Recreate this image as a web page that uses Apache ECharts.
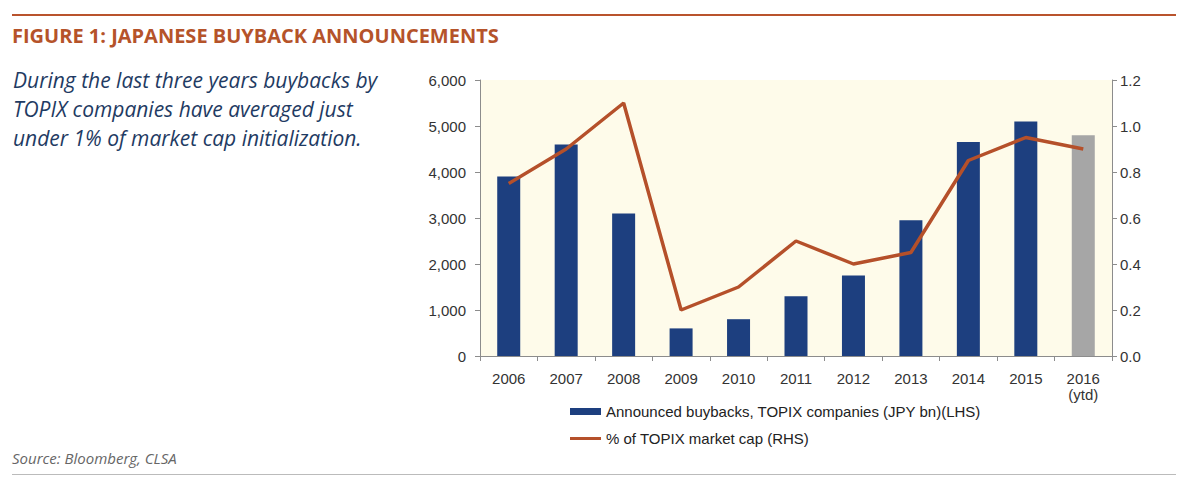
<!DOCTYPE html>
<html>
	<head>
		<meta charset="UTF-8">
		<title>Japanese buyback announcements</title>
		<style type="text/css">
			html,body{
				margin: 0;
				padding: 0;
				width: 100%;
				height: 100%;
				background: #fff;
			}
			#main{
				width: 1200px;
				height: 493px;
			}
		</style>
	</head>
	<body>
		<div id="main"></div>
		<script src="https://cdn.jsdelivr.net/npm/echarts@6/dist/echarts.min.js"></script>
		<script>
			var years = ['2006', '2007', '2008', '2009', '2010', '2011', '2012', '2013', '2014', '2015', '2016\n(ytd)'];
			var buybacks = [3900, 4600, 3100, 600, 800, 1300, 1750, 2950, 4650, 5100, 4800];
			var pctMarketCap = [0.75, 0.9, 1.1, 0.2, 0.3, 0.5, 0.4, 0.45, 0.85, 0.95, 0.9];
			var ytdIndex = 10;

			var blue = '#1d3f7f';
			var rust = '#b5502a';
			var axisGray = '#8c8c8c';
			var labelColor = '#333';

			var barData = buybacks.map(function (v, i) {
				return i === ytdIndex ? {value: v, itemStyle: {color: '#a6a6a6'}} : v;
			});

			var myChart = echarts.init(document.getElementById('main'), null, {renderer: 'svg'});

			myChart.setOption({
				backgroundColor: '#fff',
				animation: false,
				textStyle: {fontFamily: 'Liberation Sans, Arial, sans-serif'},
				grid: {
					left: 480,
					top: 80,
					right: 88,
					bottom: 137,
					show: true,
					backgroundColor: '#fefbea',
					borderWidth: 0
				},
				graphic: [
					{type: 'rect', shape: {x: 12, y: 14, width: 1164, height: 2}, style: {fill: '#b9532d'}},
					{type: 'text', left: 12, top: 25, style: {
						text: 'FIGURE 1: JAPANESE BUYBACK ANNOUNCEMENTS',
						font: 'bold 20px "Open Sans", sans-serif', fill: '#b5532a'
					}},
					{type: 'text', left: 13, top: 65, style: {
						text: 'During the last three years buybacks by\nTOPIX companies have averaged just\nunder 1% of market cap initialization.',
						font: 'italic 21px "Open Sans", sans-serif', fill: '#1f3b63', lineHeight: 29
					}},
					{type: 'text', left: 12, top: 450, style: {
						text: 'Source: Bloomberg, CLSA',
						font: 'italic 15px "Open Sans", sans-serif', fill: '#666'
					}},
					{type: 'rect', shape: {x: 12, y: 474, width: 1164, height: 1}, style: {fill: '#bbbbbb'}}
				],
				legend: {
					orient: 'vertical',
					left: 565,
					top: 399,
					itemWidth: 31,
					itemHeight: 7,
					itemGap: 12,
					textStyle: {fontSize: 15, color: '#222'},
					data: [
						{name: 'Announced buybacks, TOPIX companies (JPY bn)(LHS)', icon: 'rect'},
						{name: '% of TOPIX market cap (RHS)', icon: 'path://M0 0H31V3H0Z', itemStyle: {color: rust}}
					]
				},
				xAxis: {
					type: 'category',
					data: years,
					axisLine: {lineStyle: {color: axisGray}},
					axisTick: {show: true, length: 5, lineStyle: {color: axisGray}},
					axisLabel: {color: labelColor, fontSize: 15, margin: 14, lineHeight: 16}
				},
				yAxis: [
					{
						type: 'value',
						min: 0,
						max: 6000,
						interval: 1000,
						splitLine: {show: false},
						axisLine: {show: true, lineStyle: {color: axisGray}},
						axisTick: {show: true, length: 5, lineStyle: {color: axisGray}},
						axisLabel: {
							color: labelColor, fontSize: 15, margin: 14,
							formatter: function (v) { return v.toLocaleString('en-US'); }
						}
					},
					{
						type: 'value',
						min: 0,
						max: 1.2,
						interval: 0.2,
						splitLine: {show: false},
						axisLine: {show: true, lineStyle: {color: axisGray}},
						axisTick: {show: true, length: 5, lineStyle: {color: axisGray}},
						axisLabel: {
							color: labelColor, fontSize: 15, margin: 8,
							formatter: function (v) { return v.toFixed(1); }
						}
					}
				],
				series: [
					{
						name: 'Announced buybacks, TOPIX companies (JPY bn)(LHS)',
						type: 'bar',
						data: barData,
						barWidth: 23,
						itemStyle: {color: blue}
					},
					{
						name: '% of TOPIX market cap (RHS)',
						type: 'line',
						yAxisIndex: 1,
						data: pctMarketCap,
						symbol: 'none',
						lineStyle: {color: rust, width: 3.5},
						itemStyle: {color: rust}
					}
				]
			});
		</script>
	</body>
</html>
